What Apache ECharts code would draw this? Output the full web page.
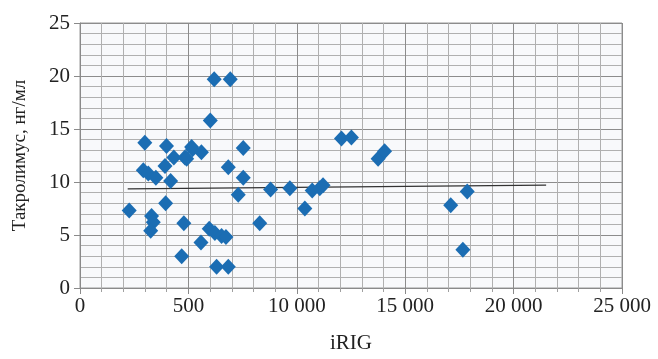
<!DOCTYPE html>
<html>
<head>
<meta charset="utf-8">
<script src="https://cdn.jsdelivr.net/npm/echarts@6/dist/echarts.min.js"></script>
<style>
  html, body { margin: 0; padding: 0; background: #fff; }
  #chart { width: 658px; height: 359px; }
</style>
</head>
<body>
<div id="chart"></div>
<script>
// iRIG values (x) and tacrolimus concentration (y)
const irig = [
  2270, 2990, 3990, 5150, 5190, 5600, 7530, 6190, 6930, 6010,
  2920, 3150, 3500, 3920, 4330, 4840, 4920, 4180, 6840, 7530,
  7300, 3950, 3300, 3380, 3260, 4790, 5960, 6220, 6530, 6730,
  5580, 4690, 6300, 6840, 8290, 8790, 9680, 10370, 10710, 11060,
  11210, 12060, 12520, 13750, 14050, 17100, 17860, 17660
];
const tacrolimus = [
  7.3, 13.7, 13.4, 13.3, 13.1, 12.8, 13.2, 19.7, 19.7, 15.8,
  11.1, 10.8, 10.4, 11.5, 12.3, 12.3, 12.2, 10.1, 11.4, 10.4,
  8.8, 8.0, 6.8, 6.2, 5.4, 6.1, 5.6, 5.2, 4.9, 4.8,
  4.3, 3.0, 2.0, 2.0, 6.1, 9.3, 9.4, 7.5, 9.2, 9.4,
  9.7, 14.1, 14.2, 12.2, 12.9, 7.8, 9.1, 3.6
];
// linear trend line end points
const trendX = [2200, 21500];
const trendY = [9.35, 9.7];
const xTickLabels = ['0', '500', '10 000', '15 000', '20 000', '25 000'];

const chart = echarts.init(document.getElementById('chart'));
const font = 'Liberation Serif';

chart.setOption({
  backgroundColor: '#ffffff',
  animation: false,
  grid: {
    left: 80, top: 23, width: 542, height: 268,
    show: true, backgroundColor: '#f8f9fb', borderColor: '#9a9a9a', borderWidth: 1
  },
  xAxis: {
    type: 'value', min: 0, max: 25000, interval: 5000,
    name: 'iRIG', nameLocation: 'middle', nameGap: 45,
    nameTextStyle: { fontFamily: font, fontSize: 21, color: '#222' },
    axisLine: { lineStyle: { color: '#8a8a8a' } },
    axisTick: { show: true, length: 6, lineStyle: { color: '#8a8a8a' } },
    minorTick: { show: true, splitNumber: 5, length: 4, lineStyle: { color: '#a0a0a0' } },
    axisLabel: {
      fontFamily: font, fontSize: 21, color: '#222', margin: 8,
      formatter: v => xTickLabels[Math.round(v / 5000)]
    },
    splitLine: { show: true, lineStyle: { color: '#8c8c8c', width: 1 } },
    minorSplitLine: { show: true, lineStyle: { color: '#b0b0b0', width: 1 } }
  },
  yAxis: {
    type: 'value', min: 0, max: 25, interval: 5,
    name: 'Такролимус, нг/мл', nameLocation: 'middle', nameGap: 50, nameRotate: 90,
    nameTextStyle: { fontFamily: font, fontSize: 19, color: '#222' },
    axisLine: { show: true, lineStyle: { color: '#8a8a8a' } },
    axisTick: { show: true, length: 6, lineStyle: { color: '#8a8a8a' } },
    axisLabel: { fontFamily: font, fontSize: 21, color: '#222', margin: 10 },
    splitLine: { show: true, lineStyle: { color: '#8c8c8c', width: 1 } },
    minorSplitLine: { show: true, lineStyle: { color: '#b0b0b0', width: 1 } },
    minorTick: { show: false, splitNumber: 5 }
  },
  series: [
    {
      type: 'line',
      data: trendX.map((x, i) => [x, trendY[i]]),
      symbol: 'none',
      lineStyle: { color: '#333', width: 1.2 },
      z: 1
    },
    {
      type: 'scatter',
      data: irig.map((x, i) => [x, tacrolimus[i]]),
      symbol: 'diamond',
      symbolSize: [15, 16],
      itemStyle: { color: '#1b6db3', opacity: 1 },
      z: 2
    }
  ]
});
</script>
</body>
</html>
